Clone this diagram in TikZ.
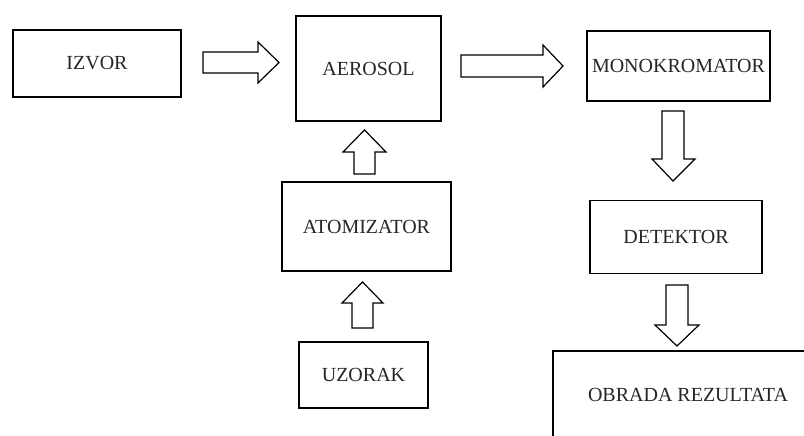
\documentclass[tikz,border=0pt]{standalone}
\usepackage{fontspec}
\setmainfont{Liberation Serif}
\begin{document}
\begin{tikzpicture}[x=1pt,y=1pt,
  box/.style={draw, line width=1.3pt, inner sep=0pt, font=\fontsize{20}{22}\selectfont, text=black!85},
  lbl/.style={font=\fontsize{20}{22}\selectfont, text=black!85},
  barrow/.style={draw, line width=1.2pt, fill=white, line join=miter}]
\useasboundingbox (0,0) rectangle (804,-436);
% boxes
\node[box, minimum width=168pt, minimum height=67pt] (izvor) at (97,-63.5) {IZVOR};
\node[box, minimum width=145pt, minimum height=105pt] (aerosol) at (368.5,-68.5) {AEROSOL};
\node[box, minimum width=183pt, minimum height=70pt] (mono) at (678.5,-66) {MONOKROMATOR};
\node[box, minimum width=169pt, minimum height=89pt] (atom) at (366.5,-226.5) {ATOMIZATOR};
\node[box, minimum width=129pt, minimum height=66pt] (uzorak) at (363.5,-375) {UZORAK};
\node[box, minimum width=172pt, minimum height=73pt] (det) at (676,-237) {DETEKTOR};
\coordinate (obtr) at (804,-351);
\coordinate (obtl) at (553,-351);
\coordinate (obbl) at (553,-436);
\draw[line width=1.3pt] (obtr) -- (obtl) -- (obbl);
\node[lbl] (obrada) at (688,-395) {OBRADA REZULTATA};
% block arrows
\draw[barrow] (203,-52) -- (258,-52) -- (258,-42) -- (279,-62.5) -- (258,-83) -- (258,-73) -- (203,-73) -- cycle;
\draw[barrow] (461,-55) -- (543,-55) -- (543,-45) -- (563,-66) -- (543,-87) -- (543,-77) -- (461,-77) -- cycle;
\draw[barrow] (662,-111) -- (684,-111) -- (684,-159) -- (695,-159) -- (673,-181) -- (652,-159) -- (662,-159) -- cycle;
\draw[barrow] (666,-285) -- (688,-285) -- (688,-325) -- (699,-325) -- (677,-346) -- (655,-325) -- (666,-325) -- cycle;
\draw[barrow] (354,-174) -- (375,-174) -- (375,-152) -- (386,-152) -- (364.5,-130) -- (343,-152) -- (354,-152) -- cycle;
\draw[barrow] (352,-328) -- (373,-328) -- (373,-303) -- (383,-303) -- (362.5,-282) -- (342,-303) -- (352,-303) -- cycle;
\end{tikzpicture}
\end{document}
